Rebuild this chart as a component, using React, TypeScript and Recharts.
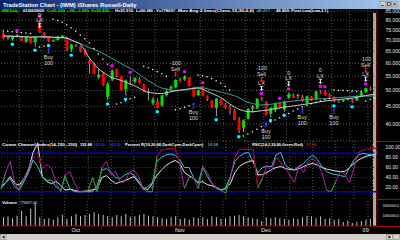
import React from 'react';
import { ComposedChart, Bar, Line, XAxis, YAxis, CartesianGrid, ReferenceLine } from 'recharts';

const FONT = '"Liberation Sans", Arial, sans-serif';

// trading days, 09/09/08 .. 01/06/09
const dates = [
  '09/09/08', '09/10/08', '09/11/08', '09/12/08', '09/15/08', '09/16/08', '09/17/08', '09/18/08', '09/19/08', '09/22/08',
  '09/23/08', '09/24/08', '09/25/08', '09/26/08', '09/29/08', '09/30/08', '10/01/08', '10/02/08', '10/03/08', '10/06/08',
  '10/07/08', '10/08/08', '10/09/08', '10/10/08', '10/13/08', '10/14/08', '10/15/08', '10/16/08', '10/17/08', '10/20/08',
  '10/21/08', '10/22/08', '10/23/08', '10/24/08', '10/27/08', '10/28/08', '10/29/08', '10/30/08', '10/31/08', '11/03/08',
  '11/04/08', '11/05/08', '11/06/08', '11/07/08', '11/10/08', '11/11/08', '11/12/08', '11/13/08', '11/14/08', '11/17/08',
  '11/18/08', '11/19/08', '11/20/08', '11/21/08', '11/24/08', '11/25/08', '11/26/08', '11/28/08', '12/01/08', '12/02/08',
  '12/03/08', '12/04/08', '12/05/08', '12/08/08', '12/09/08', '12/10/08', '12/11/08', '12/12/08', '12/15/08', '12/16/08',
  '12/17/08', '12/18/08', '12/19/08', '12/22/08', '12/23/08', '12/24/08', '12/26/08', '12/29/08', '12/30/08', '12/31/08',
  '01/02/09', '01/05/09', '01/06/09',
];

const opens = [
  73.2, 70.9, 70.4, 71.6, 71.5, 69.2, 71.0, 69.0, 78.4, 73.6,
  71.2, 69.4, 70.0, 71.0, 71.4, 66.0, 67.6, 67.0, 65.3, 61.0,
  59.6, 54.6, 56.0, 47.9, 53.8, 57.5, 55.0, 50.5, 53.2, 53.0,
  54.0, 52.0, 49.2, 45.9, 46.6, 45.3, 48.4, 50.6, 51.1, 53.6,
  53.9, 54.4, 51.1, 48.5, 50.7, 48.0, 46.6, 44.5, 46.8, 45.4,
  44.7, 43.7, 41.0, 39.0, 41.4, 44.3, 44.4, 47.4, 46.3, 42.8,
  43.8, 45.8, 44.0, 47.6, 48.5, 48.2, 48.0, 46.0, 48.0, 47.3,
  49.6, 49.5, 48.6, 47.8, 46.7, 46.5, 47.0, 47.3, 46.8, 48.3,
  49.5, 50.8, 50.82,
];
const highs = [
  73.8, 71.9, 72.2, 72.8, 72.0, 71.6, 71.3, 71.5, 80.2, 74.0,
  71.8, 70.4, 71.9, 72.4, 71.6, 68.2, 68.3, 67.4, 66.2, 61.6,
  60.4, 57.6, 56.6, 53.0, 57.6, 57.9, 55.3, 53.8, 55.2, 54.6,
  54.6, 52.3, 50.6, 47.8, 47.4, 48.6, 50.7, 51.8, 53.9, 54.5,
  55.4, 54.7, 51.4, 50.3, 51.5, 48.4, 46.9, 47.6, 47.3, 46.0,
  45.4, 44.2, 41.9, 41.3, 44.5, 45.4, 47.6, 47.9, 46.6, 44.8,
  46.1, 46.4, 46.8, 49.4, 49.0, 48.9, 48.6, 48.3, 48.2, 49.9,
  50.2, 50.1, 49.1, 48.1, 47.2, 47.1, 47.6, 47.5, 48.4, 49.6,
  51.0, 51.3, 51.915,
];
const lows = [
  70.4, 70.2, 69.7, 71.1, 69.6, 68.7, 68.4, 67.0, 73.5, 70.8,
  69.1, 69.3, 69.8, 70.6, 65.0, 64.8, 66.7, 64.6, 63.2, 56.0,
  55.8, 54.0, 51.6, 46.8, 53.2, 54.6, 50.0, 48.3, 52.2, 52.4,
  52.4, 49.4, 46.8, 45.3, 44.4, 44.9, 48.0, 49.6, 50.8, 52.8,
  53.3, 51.4, 47.9, 48.2, 48.1, 46.6, 44.5, 42.1, 45.3, 44.2,
  42.6, 41.0, 37.6, 37.9, 41.2, 43.0, 44.1, 46.6, 42.3, 41.9,
  43.3, 44.3, 43.4, 47.2, 47.6, 47.4, 46.3, 45.7, 46.6, 47.0,
  48.9, 48.3, 47.8, 46.2, 46.0, 46.3, 46.7, 45.9, 46.6, 48.1,
  49.2, 49.9, 50.38,
];
const closes = [
  70.8, 71.4, 72.0, 72.5, 69.8, 71.4, 68.6, 71.1, 74.0, 71.0,
  69.5, 69.8, 71.6, 72.1, 65.4, 67.9, 67.4, 64.9, 63.5, 59.8,
  56.0, 55.6, 51.9, 52.2, 57.1, 55.4, 50.2, 53.5, 52.8, 54.3,
  52.7, 49.8, 49.6, 47.1, 44.6, 48.4, 49.8, 51.3, 53.6, 53.1,
  55.0, 51.7, 48.1, 50.0, 48.6, 47.2, 44.7, 47.4, 45.5, 44.5,
  44.0, 41.2, 38.4, 40.9, 44.2, 44.8, 47.3, 47.2, 42.5, 44.5,
  45.9, 44.7, 46.5, 48.9, 47.9, 48.6, 46.6, 48.1, 47.0, 49.7,
  49.4, 48.5, 48.0, 46.5, 46.4, 46.9, 47.4, 46.6, 48.3, 49.3,
  50.8, 50.3, 51.26,
];
const volumes = [
  870000, 970000, 770000, 1030000, 1530000, 970000, 1700000, 2300000, 870000, 700000,
  770000, 630000, 870000, 1100000, 700000, 970000, 1200000, 970000, 1100000, 1200000,
  1370000, 1200000, 1100000, 970000, 870000, 1100000, 970000, 1200000, 870000, 970000,
  1100000, 1200000, 1030000, 970000, 870000, 770000, 700000, 870000, 970000, 700000,
  770000, 630000, 870000, 770000, 870000, 700000, 970000, 870000, 700000, 770000,
  970000, 1030000, 1100000, 970000, 870000, 770000, 700000, 500000, 870000, 770000,
  870000, 770000, 700000, 630000, 770000, 700000, 870000, 1030000, 970000, 770000,
  970000, 700000, 770000, 630000, 700000, 400000, 530000, 300000, 430000, 500000,
  630000, 700000, 778657,
];
// Mov Avg 2 lines: slow (teal) and fast (grey)
const maSlow = [
  71.9, 71.9, 71.9, 71.7, 71.7, 71.7, 71.5, 71.5, 71.5, 71.3,
  71.3, 71.3, 71.1, 71.1, 71.0, 70.1, 69.2, 68.4, 67.5, 66.6,
  65.8, 65.0, 64.0, 63.0, 61.9, 60.9, 59.9, 58.9, 58.0, 56.9,
  55.7, 54.5, 53.4, 52.5, 51.5, 50.8, 50.5, 50.2, 49.9, 50.0,
  50.3, 50.5, 50.8, 51.1, 51.0, 50.6, 50.2, 49.9, 49.5, 49.1,
  48.7, 48.3, 47.7, 46.9, 46.2, 45.9, 45.5, 45.4, 45.5, 45.6,
  45.8, 46.0, 46.2, 46.4, 46.6, 46.8, 46.9, 47.0, 47.1, 47.2,
  47.3, 47.4, 47.5, 47.6, 47.7, 47.8, 47.9, 48.0, 48.05, 48.1,
  48.15, 48.2, 48.217,
];
const maFast = [
  72.0, 71.9, 71.8, 71.7, 71.6, 71.5, 71.4, 71.4, 71.6, 71.6,
  71.5, 71.4, 71.3, 71.2, 71.0, 70.0, 69.1, 68.2, 65.3, 62.1,
  59.9, 57.8, 56.6, 55.4, 54.5, 54.0, 53.5, 52.9, 52.2, 51.6,
  50.8, 50.0, 49.4, 49.2, 49.0, 49.0, 49.3, 49.6, 49.9, 50.1,
  50.3, 50.5, 50.7, 50.8, 50.5, 49.7, 49.1, 48.4, 47.7, 46.7,
  45.7, 44.8, 44.1, 43.7, 43.4, 43.4, 43.5, 43.7, 43.8, 44.0,
  44.3, 44.5, 44.8, 44.9, 45.1, 45.3, 45.5, 45.7, 45.9, 46.1,
  46.4, 46.6, 46.8, 46.9, 47.1, 47.2, 47.4, 47.5, 47.8, 48.1,
  48.4, 48.6, 48.809,
];
// white trailing dots
const sar = [
  74.4, 74.2, 74.0, 73.8, 73.6, 73.4, 73.2, null, 66.9, 67.2,
  67.5, 80.4, 79.8, 78.8, 77.6, 76.0, 74.2, 72.4, 70.6, 68.6,
  66.2, 63.8, 61.6, 59.6, null, 45.7, 46.1, 46.6, 47.3, 47.8,
  null, 58.8, 58.2, 57.5, 56.7, 55.9, 55.0, null, 44.0, 44.3,
  44.7, 45.2, 45.7, 55.5, 55.2, 54.8, 54.2, 53.4, 52.5, 51.4,
  50.2, null, null, 36.9, 37.4, 38.0, 38.6, 39.3, 39.9, 40.5,
  41.1, 41.7, 42.2, 42.9, 43.6, 44.2, 44.8, 45.3, 45.8, 46.2,
  46.6, 47.0, 47.4, 50.2, 50.1, 50.0, 49.9, 49.8, 49.7, 49.7,
  46.6, 47.1, 47.6,
];
const pivotHighBars = [3, 8, 24, 28, 40, 44, 57, 61, 63, 70, 71, 80];
const pivotLowBars = [2, 7, 10, 15, 23, 27, 34, 47, 52, 59, 62, 73, 77];
// strategy orders; "at" = fill price when the marker is not on the bar's high/low
const signals = [
  { i: 8, kind: 'LX', qty: '0', at: 72.8 },
  { i: 10, kind: 'Buy', qty: '100' },
  { i: 38, kind: 'Sell', qty: '-100' },
  { i: 42, kind: 'Buy', qty: '100' },
  { i: 57, kind: 'SellLX', qty: '-100' },
  { i: 58, kind: 'Buy', qty: '100' },
  { i: 63, kind: 'LX', qty: '0' },
  { i: 66, kind: 'Buy', qty: '100' },
  { i: 70, kind: 'LX', qty: '0' },
  { i: 73, kind: 'Buy', qty: '100' },
  { i: 80, kind: 'SellLX', qty: '-100' },
];

// lower pane oscillators
const cci = [
  22, 30, 42, 28, 25, 38, 55, 90, 108, 42,
  32, 28, 33, 25, 15, 17, 15, 12, 13, 14,
  16, 18, 40, 44, 35, 28, 31, 34, 38, 42,
  30, 20, 16, 28, 45, 55, 64, 70, 74, 68,
  50, 44, 38, 30, 32, 26, 24, 20, 16, 18,
  28, 50, 62, 68, 72, 74, 45, 46, 50, 56,
  60, 62, 58, 56, 55, 58, 62, 66, 68, 65,
  60, 57, 55, 53, 52, 52, 60, 68, 75, 80,
  83, 85, 88.7,
];
const pctR = [
  18, 30, 38, 22, 15, 32, 50, 75, 62, 42,
  35, 35, 22, 15, 42, 18, 12, 12, 12, 12,
  12, 25, 55, 58, 50, 40, 38, 45, 50, 45,
  34, 16, 22, 30, 72, 80, 85, 87, 84, 75,
  60, 60, 40, 28, 62, 42, 28, 20, 14, 20,
  42, 72, 82, 88, 90, 70, 50, 60, 62, 62,
  85, 90, 65, 58, 56, 62, 68, 78, 85, 75,
  62, 52, 48, 46, 44, 42, 60, 75, 85, 88,
  86, 85, 93.08,
];
const rsic = [
  18, 50, 72, 30, 15, 38, 58, 81, 90, 58,
  66, 58, 30, 12, 45, 52, 30, 12, 12, 15,
  40, 12, 60, 72, 45, 52, 30, 32, 50, 55,
  42, 18, 12, 12, 80, 95, 96, 97, 98, 68,
  18, 40, 40, 18, 62, 50, 28, 18, 15, 9,
  40, 80, 96, 96, 96, 95, 20, 38, 65, 52,
  80, 70, 58, 45, 30, 65, 50, 72, 78, 68,
  50, 15, 12, 32, 52, 46, 30, 60, 90, 95,
  96, 98, 97.88,
];

const priceTicks = [40, 45, 50, 55, 60, 65, 70, 75, 80, 85];
const oscTicks = [20, 40, 60, 80, 100];
const oscLevels = [88, 12];
const volTicks = [1000000, 2000000];
const mondays = [
  '09/15/08', '09/22/08', '09/29/08', '10/06/08', '10/13/08', '10/20/08', '10/27/08', '11/03/08', '11/10/08',
  '11/17/08', '11/24/08', '12/01/08', '12/08/08', '12/15/08', '12/22/08', '12/29/08', '01/05/09',
];
const monthStarts = ['10/01/08', '11/03/08', '12/01/08', '01/02/09'];
const monthLabels = ['Oct', 'Nov', 'Dec', '09'];

const priceRows = dates.map((date, i) => {
  const sig = signals.find(s => s.i === i);
  return {
    date,
    wick: [lows[i], highs[i]],
    body: [Math.min(opens[i], closes[i]), Math.max(opens[i], closes[i])],
    up: closes[i] >= opens[i],
    maSlow: maSlow[i],
    maFast: maFast[i],
    sar: sar[i],
    pivHi: pivotHighBars.includes(i) ? highs[i] : null,
    pivLo: pivotLowBars.includes(i) ? lows[i] : null,
    sigHi: sig && sig.kind !== 'Buy' ? sig.at ?? highs[i] : null,
    sigLo: sig && sig.kind === 'Buy' ? sig.at ?? lows[i] : null,
    sig,
  };
});

const oscRows = dates.map((date, i) => ({
  date,
  cci: cci[i],
  pctR: pctR[i],
  rsic: rsic[i],
  rsicHot: rsic[i] >= 80 || (i > 0 && rsic[i - 1] >= 80) ? rsic[i] : null,
  rsicCold: rsic[i] <= 20 || (i > 0 && rsic[i - 1] <= 20) ? rsic[i] : null,
}));

const volRows = dates.map((date, i) => ({ date, vol: volumes[i] }));

const axisTick = { fill: '#e6e6e6', fontSize: 5, fontFamily: FONT };
const AXIS_RED = '#b00000';
const GRID = '#5a5a5a';

const CandleBody = (p: any) => (
  <rect x={p.x} y={p.y} width={p.width} height={Math.max(p.height || 0, 1)} fill={p.payload.up ? '#00e400' : '#ff0000'} />
);

const empty = (p: any) => p.value == null || p.cy == null || Number.isNaN(p.cy);

const SarDot = (p: any) => (empty(p) ? <g key={p.index} /> : <circle key={p.index} cx={p.cx} cy={p.cy} r={0.75} fill="#ffffff" />);
const PivHiDot = (p: any) => (empty(p) ? <g key={p.index} /> : <circle key={p.index} cx={p.cx} cy={p.cy - 3.5} r={1.7} fill="#ff00ff" />);
const PivLoDot = (p: any) => (empty(p) ? <g key={p.index} /> : <circle key={p.index} cx={p.cx} cy={p.cy + 3.5} r={1.7} fill="#00ffff" />);

const label = (x: number, y: number, s: string) => (
  <text x={x} y={y} fontSize={5.5} fill="#dcdcdc" textAnchor="middle" fontFamily={FONT}>{s}</text>
);
const downArrow = (x: number, top: number, color: string) => (
  <g>
    <line x1={x - 1.5} y1={top} x2={x + 1.5} y2={top} stroke={color} strokeWidth={0.8} />
    <line x1={x} y1={top} x2={x} y2={top + 3} stroke={color} strokeWidth={1} />
    <path d={`M${x - 1.7},${top + 2.6}L${x + 1.7},${top + 2.6}L${x},${top + 4.6}Z`} fill={color} />
  </g>
);

const SigHiMark = (p: any) => {
  if (empty(p)) return <g key={p.index} />;
  const { cx, cy } = p;
  const s = p.payload.sig;
  if (s.kind === 'LX') {
    return (
      <g key={p.index}>
        {downArrow(cx, cy - 10.5, '#ffffff')}
        {label(cx, cy - 12, 'LX')}
        {label(cx, cy - 17.5, s.qty)}
      </g>
    );
  }
  if (s.kind === 'Sell') {
    return (
      <g key={p.index}>
        {downArrow(cx, cy - 7, '#ff2020')}
        {label(cx, cy - 8.5, 'Sell')}
        {label(cx, cy - 14.5, s.qty)}
      </g>
    );
  }
  return (
    <g key={p.index}>
      {downArrow(cx, cy - 10.5, '#ffffff')}
      {label(cx, cy - 12, 'LX')}
      {downArrow(cx, cy - 19.5, '#ff2020')}
      {label(cx, cy - 21, 'Sell')}
      {label(cx, cy - 27, s.qty)}
    </g>
  );
};

const SigLoMark = (p: any) => {
  if (empty(p)) return <g key={p.index} />;
  const { cx, cy } = p;
  const c = '#2838ff';
  return (
    <g key={p.index}>
      <path d={`M${cx - 1.7},${cy + 8}L${cx + 1.7},${cy + 8}L${cx},${cy + 6}Z`} fill={c} />
      <line x1={cx} y1={cy + 7.5} x2={cx} y2={cy + 11} stroke={c} strokeWidth={1} />
      <line x1={cx - 1.5} y1={cy + 11} x2={cx + 1.5} y2={cy + 11} stroke={c} strokeWidth={0.8} />
      {label(cx, cy + 17, 'Buy')}
      {label(cx, cy + 23, p.payload.sig.qty)}
    </g>
  );
};

// volume axis labels are long; right-align them against the window edge
const VolTick = (p: any) => (
  <text x={399} y={p.y} dy={1.3} fill="#e6e6e6" fontSize={3.5} fontFamily={FONT} textAnchor="end">
    {Number(p.payload.value).toFixed(1)}
  </text>
);

const weekLines = (axisId: string) =>
  mondays.map(d => (
    <ReferenceLine key={d} xAxisId={axisId} x={d} position="start" stroke={GRID} strokeDasharray="1 2" />
  ));

type HeadItem = { x: number; w: number; t: string; c: string };
const Seg = ({ items, y }: { items: HeadItem[]; y: number }) => (
  <>
    {items.map(it => (
      <text
        key={it.x}
        x={it.x}
        y={y}
        fill={it.c}
        fontSize={4.1}
        fontWeight="bold"
        fontFamily={FONT}
        textLength={it.w}
        lengthAdjust="spacingAndGlyphs"
      >
        {it.t}
      </text>
    ))}
  </>
);

const topHeader: HeadItem[] = [
  { x: 2, w: 16, t: 'IWM-Daily', c: '#00ff00' },
  { x: 23, w: 21, t: '01/06/2009', c: '#ffffff' },
  { x: 47, w: 18, t: 'C=51.260', c: '#00ff00' },
  { x: 67, w: 8, t: '+.950', c: '#00ff00' },
  { x: 77, w: 12, t: '+1.89%', c: '#00ff00' },
  { x: 91, w: 18, t: 'O=50.820', c: '#00ff00' },
  { x: 115, w: 18, t: 'H=51.915', c: '#ffffff' },
  { x: 136, w: 17, t: 'L=50.380', c: '#ffffff' },
  { x: 156, w: 19, t: 'V=778657', c: '#ffffff' },
  { x: 178, w: 76, t: 'Mov Avg 2 lines(Close,15,30,0,0)', c: '#ffffff' },
  { x: 257, w: 13, t: '48.217', c: '#3fb3b3' },
  { x: 276, w: 13, t: '48.809', c: '#ffffff' },
  { x: 291, w: 37, t: 'Pivot Low(Low,2,1)', c: '#ffffff' },
];
const oscHeader: HeadItem[] = [
  { x: 2, w: 75, t: 'Comm Channel Index(14,150,-150)', c: '#ffffff' },
  { x: 80, w: 12, t: '152.88', c: '#ffffff' },
  { x: 94, w: 11, t: '150.00', c: '#3030ff' },
  { x: 108, w: 13, t: '-150.00', c: '#3030ff' },
  { x: 125, w: 78, t: 'Percent R(10,20,80,DarkCyan,DarkCyan)', c: '#ffffff' },
  { x: 208, w: 10, t: '93.08', c: '#3fb3b3' },
  { x: 252, w: 51, t: 'RSIC(14,2,20,80,Green,Red)', c: '#ffffff' },
  { x: 306, w: 10, t: '97.88', c: '#e00000' },
];
const volHeader: HeadItem[] = [
  { x: 2, w: 15, t: 'Volume', c: '#ffffff' },
  { x: 20, w: 17, t: '778657.00', c: '#a0a0a0' },
];

const abs = (left: number, top: number): React.CSSProperties => ({ position: 'absolute', left, top });

export default function App() {
  return (
    <div style={{ position: 'fixed', left: 0, top: 0, width: 400, height: 240, background: '#000', overflow: 'hidden' }}>
      {/* window title */}
      <div style={{ ...abs(0, 0), width: 400, height: 9, background: 'linear-gradient(to right, #0a246a, #a6caf0)' }} />
      <svg style={abs(0, 0)} width={400} height={9}>
        <text x={3} y={6.8} fontSize={5.8} fontWeight="bold" fill="#ffffff" fontFamily={FONT}>
          TradeStation Chart - (IWM) iShares Russell-Daily
        </text>
        {[380, 386, 392].map((x, k) => (
          <g key={x}>
            <rect x={x} y={1.5} width={5.5} height={5.5} fill="#d4d0c8" stroke="#808080" strokeWidth={0.5} />
            {k === 0 && <line x1={x + 1.3} y1={5.5} x2={x + 3.5} y2={5.5} stroke="#000" strokeWidth={0.8} />}
            {k === 1 && <rect x={x + 1.3} y={2.8} width={3} height={2.8} fill="none" stroke="#000" strokeWidth={0.6} />}
            {k === 2 && <path d={`M${x + 1.4},${2.8}L${x + 4.1},${5.6}M${x + 4.1},${2.8}L${x + 1.4},${5.6}`} stroke="#000" strokeWidth={0.7} />}
          </g>
        ))}
      </svg>

      {/* last-bar marker */}
      <div style={{ ...abs(373, 13), width: 3, height: 213, background: '#a8a8a8' }} />

      {/* price pane */}
      <div style={abs(0, 0)}>
        <ComposedChart width={400} height={142} data={priceRows} margin={{ top: 11, right: 1, bottom: 1, left: 1 }}>
          <XAxis xAxisId="b" dataKey="date" hide />
          <XAxis xAxisId="w" dataKey="date" hide />
          <YAxis
            orientation="right"
            scale="log"
            domain={[35.7, 85]}
            allowDataOverflow
            ticks={priceTicks}
            interval={0}
            width={22}
            tick={axisTick}
            tickFormatter={(v: number) => v.toFixed(3)}
            tickLine={false}
            tickMargin={2.5}
            axisLine={{ stroke: AXIS_RED }}
          />
          <CartesianGrid xAxisId="b" vertical={false} stroke={GRID} strokeDasharray="1 2" />
          {weekLines('b')}
          <Line xAxisId="b" dataKey="maSlow" type="monotone" stroke="#3a9e9e" strokeWidth={1} dot={false} activeDot={false} isAnimationActive={false} />
          <Line xAxisId="b" dataKey="maFast" type="monotone" stroke="#c8c8c8" strokeWidth={1} dot={false} activeDot={false} isAnimationActive={false} />
          <Bar xAxisId="w" dataKey="wick" barSize={1} fill="#a0a0a0" isAnimationActive={false} />
          <Bar xAxisId="b" dataKey="body" barSize={3} shape={CandleBody} isAnimationActive={false} />
          <Line xAxisId="b" dataKey="sar" stroke="none" dot={SarDot} activeDot={false} isAnimationActive={false} />
          <Line xAxisId="b" dataKey="pivHi" stroke="none" dot={PivHiDot} activeDot={false} isAnimationActive={false} />
          <Line xAxisId="b" dataKey="pivLo" stroke="none" dot={PivLoDot} activeDot={false} isAnimationActive={false} />
          <Line xAxisId="b" dataKey="sigHi" stroke="none" dot={SigHiMark} activeDot={false} isAnimationActive={false} />
          <Line xAxisId="b" dataKey="sigLo" stroke="none" dot={SigLoMark} activeDot={false} isAnimationActive={false} />
        </ComposedChart>
      </div>
      <svg style={abs(0, 0)} width={340} height={14}>
        <Seg items={topHeader} y={12} />
      </svg>

      {/* oscillator pane */}
      <div style={abs(0, 141)}>
        <ComposedChart width={400} height={58} data={oscRows} margin={{ top: 0, right: 1, bottom: 0, left: 1 }}>
          <XAxis xAxisId="b" dataKey="date" hide />
          <YAxis
            orientation="right"
            domain={[-2.4, 112.5]}
            allowDataOverflow
            ticks={oscTicks}
            interval={0}
            width={22}
            tick={axisTick}
            tickFormatter={(v: number) => v.toFixed(2)}
            tickLine={false}
            tickMargin={2.5}
            axisLine={{ stroke: AXIS_RED }}
          />
          <CartesianGrid xAxisId="b" vertical={false} stroke="#3a3a3a" strokeDasharray="1 2" />
          {weekLines('b')}
          {oscLevels.map(v => (
            <ReferenceLine key={v} xAxisId="b" y={v} stroke="#0000d8" strokeWidth={1.5} />
          ))}
          <Line xAxisId="b" dataKey="cci" type="linear" stroke="#e8e8e8" strokeWidth={1} dot={false} activeDot={false} isAnimationActive={false} />
          <Line xAxisId="b" dataKey="pctR" type="linear" stroke="#40c4c4" strokeWidth={1} dot={false} activeDot={false} isAnimationActive={false} />
          <Line xAxisId="b" dataKey="rsic" type="linear" stroke="#b020b0" strokeWidth={1} dot={false} activeDot={false} isAnimationActive={false} />
          <Line xAxisId="b" dataKey="rsicHot" type="linear" stroke="#a00000" strokeWidth={1} dot={false} activeDot={false} isAnimationActive={false} />
          <Line xAxisId="b" dataKey="rsicCold" type="linear" stroke="#20a020" strokeWidth={1} dot={false} activeDot={false} isAnimationActive={false} />
        </ComposedChart>
      </div>
      <svg style={abs(0, 141)} width={340} height={7}>
        <Seg items={oscHeader} y={5} />
      </svg>

      {/* volume pane */}
      <div style={abs(0, 199)}>
        <ComposedChart width={400} height={36} data={volRows} margin={{ top: 0, right: 1, bottom: 0, left: 1 }}>
          <XAxis
            xAxisId="b"
            dataKey="date"
            height={9}
            ticks={monthStarts}
            interval={0}
            tickFormatter={(d: string) => monthLabels[monthStarts.indexOf(d)]}
            tick={{ ...axisTick, fontSize: 5.5 }}
            tickLine={false}
            tickSize={0}
            tickMargin={2}
            axisLine={{ stroke: AXIS_RED }}
          />
          <YAxis
            orientation="right"
            domain={[0, 2700000]}
            allowDataOverflow
            ticks={volTicks}
            interval={0}
            width={22}
            tick={VolTick}
            tickLine={false}
            axisLine={{ stroke: AXIS_RED }}
          />
          {weekLines('b')}
          <Bar xAxisId="b" dataKey="vol" barSize={1} fill="#c4c4c4" isAnimationActive={false} />
        </ComposedChart>
      </div>
      <svg style={abs(0, 199)} width={200} height={7}>
        <Seg items={volHeader} y={5} />
      </svg>

      {/* pane separators on the axis strip */}
      <div style={{ ...abs(377, 141), width: 23, height: 1, background: AXIS_RED }} />
      <div style={{ ...abs(377, 199), width: 23, height: 1, background: AXIS_RED }} />
      <div style={{ ...abs(377, 226), width: 23, height: 1, background: AXIS_RED }} />

      {/* scroll bar */}
      <div style={{ ...abs(0, 234), width: 400, height: 6, background: '#d4d0c8' }} />
      <svg style={abs(0, 234)} width={400} height={6}>
        <rect x={0.5} y={0.5} width={6} height={5} fill="#d4d0c8" stroke="#808080" strokeWidth={0.5} />
        <path d="M4.5,1.5L2,3L4.5,4.5Z" fill="#000" />
        <rect x={386.5} y={0.5} width={6} height={5} fill="#d4d0c8" stroke="#808080" strokeWidth={0.5} />
        <path d="M388.5,1.5L391,3L388.5,4.5Z" fill="#000" />
        <rect x={393} y={0.5} width={6.5} height={5} fill="#d4d0c8" stroke="#808080" strokeWidth={0.5} />
      </svg>
    </div>
  );
}
